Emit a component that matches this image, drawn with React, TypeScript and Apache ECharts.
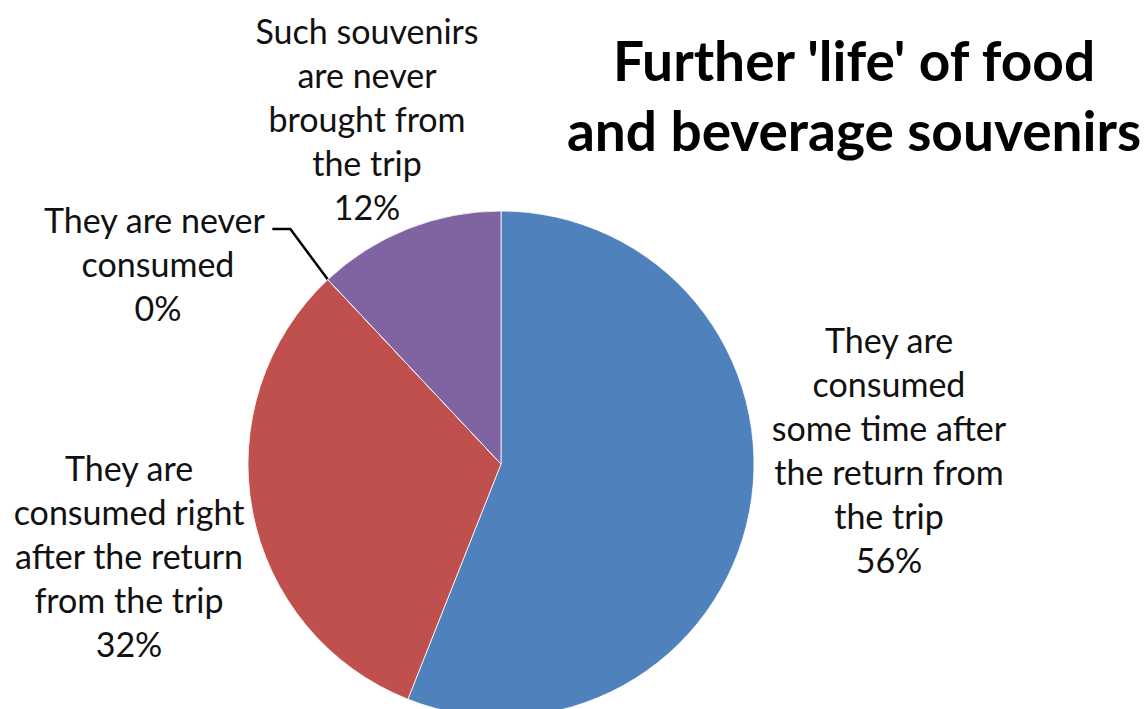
import React, { useEffect, useRef } from "react";
import * as echarts from "echarts";

const categories = [
  "They are\nconsumed\nsome time after\nthe return from\nthe trip",
  "They are\nconsumed right\nafter the return\nfrom the trip",
  "They are never\nconsumed",
  "Such souvenirs\nare never\nbrought from\nthe trip",
];
const values = [56, 32, 0, 12];
const colors = ["#4F81BD", "#C0504D", "#9BBB59", "#8064A2"];
const titleText = "Further 'life' of food\nand beverage souvenirs";

// label centre positions (layout only)
const labelPos = [
  [889, 449],
  [129, 555],
  [158, 229],
  [367, 118],
];

export default function App() {
  const ref = useRef<HTMLDivElement>(null);
  useEffect(() => {
    document.body.style.margin = "0";
    const chart = echarts.init(ref.current!, null, { renderer: "svg" });
    chart.setOption({
      animation: false,
      backgroundColor: "#ffffff",
      title: {
        text: titleText,
        left: 849,
        top: 20,
        textAlign: "center",
        textStyle: {
          fontFamily: "Lato",
          fontWeight: "bold",
          fontSize: 55,
          lineHeight: 70,
          color: "#000",
        },
      },
      series: [
        {
          type: "pie",
          center: [501, 464],
          radius: 253,
          startAngle: 90,
          clockwise: true,
          avoidLabelOverlap: false,
          itemStyle: { borderColor: "#ffffff", borderWidth: 0.8 },
          label: {
            show: true,
            position: "outside",
            fontFamily: "Lato",
            fontSize: 34,
            lineHeight: 44,
            color: "#111",
            align: "center",
            formatter: (p: any) => {
              if (p.dataIndex !== 2) return `${p.name}\n${p.value}%`;
              const lines = String(p.name).split("\n");
              lines[0] = `${lines[0]}{s| }`;
              return `{g| }\n${lines.join("\n")}\n${p.value}%`;
            },
            rich: {
              g: { fontSize: 8, lineHeight: 68 },
              s: { fontSize: 8, width: 7 },
            },
          },
          labelLine: { show: false },
          labelLayout: (p: any) => ({
            x: labelPos[p.dataIndex][0],
            y: labelPos[p.dataIndex][1],
            align: "center",
            verticalAlign: "middle",
          }),
          data: categories.map((name, i) => ({
            name,
            value: values[i],
            itemStyle: { color: colors[i] },
            labelLine:
              i === 2
                ? { show: true, length: 20, length2: 18, lineStyle: { color: "#000", width: 2.5 } }
                : { show: false },
          })),
        },
      ],
    });
    return () => chart.dispose();
  }, []);
  return <div ref={ref} style={{ width: 1147, height: 709 }} />;
}
